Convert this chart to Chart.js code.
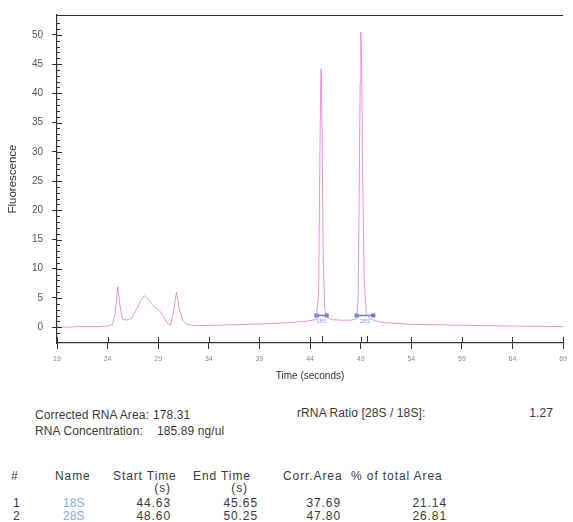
<!DOCTYPE html>
<html>
<head>
<meta charset="utf-8">
<script src="https://cdn.jsdelivr.net/npm/chart.js@4"></script>
<style>
  body { margin: 0; background: #fff; font-family: "Liberation Sans", Arial, sans-serif; color: #3a3a3a; }
  #wrap { position: relative; width: 573px; height: 522px; overflow: hidden; }
  #chart { position: absolute; left: 0; top: 0; }
  .t { position: absolute; font-size: 12px; line-height: 14px; white-space: nowrap; letter-spacing: 0.1px; }
  .h { letter-spacing: 0.9px; }
  .n { letter-spacing: 0.9px; }
  .blue { color: #8aaae6; }
</style>
</head>
<body>
<div id="wrap">
  <canvas id="chart" width="573" height="390"></canvas>
  <div id="info"></div>
</div>
<script>
// electropherogram trace
var timeSec = [19, 20, 21, 22, 23, 24, 24.5, 24.75, 25.0, 25.2, 25.45, 25.9, 26.4, 26.9, 27.3, 27.6, 28.0, 28.4, 28.8, 29.1, 29.5, 29.9, 30.2, 30.5, 30.8, 31.1, 31.4, 31.8, 32.5, 34, 36, 38, 40, 42, 43.5, 44.6, 44.85, 44.95, 45.05, 45.1, 45.2, 45.3, 45.45, 45.7, 46.2, 47, 48, 48.6, 48.75, 48.85, 48.95, 49.02, 49.1, 49.2, 49.35, 49.55, 49.9, 50.4, 51, 52, 54, 57, 60, 64, 69];
var fluorescence = [0.0, 0.0, 0.1, 0.1, 0.1, 0.2, 0.5, 2.5, 6.9, 4.0, 1.4, 1.2, 1.6, 3.2, 4.6, 5.4, 4.8, 3.9, 3.2, 2.9, 1.8, 0.7, 0.3, 2.5, 6.0, 3.0, 1.2, 0.5, 0.3, 0.3, 0.4, 0.5, 0.6, 0.8, 1.0, 1.3, 6.0, 25.0, 42.0, 44.2, 32.0, 12.0, 3.0, 1.6, 1.3, 1.2, 1.2, 1.4, 5.0, 22.0, 42.0, 50.5, 44.0, 26.0, 8.0, 2.4, 1.5, 1.1, 0.9, 0.7, 0.5, 0.4, 0.3, 0.2, 0.1];

var timeTicks = [19, 24, 29, 34, 39, 44, 49, 54, 59, 64, 69];

// detected peaks
var peakNames = ['18S', '28S'];
var peakStart = [44.63, 48.60];
var peakEnd = [45.65, 50.25];
var peakLevel = [2.0, 2.0];
var peakMark = [45.2, 49.6];

// results
var correctedArea = '178.31';
var rnaConc = '185.89 ng/ul';
var rrnaRatio = '1.27';
var startTimes = ['44.63', '48.60'];
var endTimes = ['45.65', '50.25'];
var corrArea = ['37.69', '47.80'];
var pctArea = ['21.14', '26.81'];

var trace = timeSec.map(function (t, i) { return { x: t, y: fluorescence[i] }; });

var datasets = [{
  label: 'trace',
  data: trace,
  borderColor: 'rgba(228,128,220,0.85)',
  borderWidth: 1,
  pointRadius: 0,
  tension: 0
}];
peakNames.forEach(function (n, i) {
  datasets.push({
    label: n,
    data: [{ x: peakStart[i], y: peakLevel[i] }, { x: peakEnd[i], y: peakLevel[i] }],
    borderColor: '#5f7fd8',
    backgroundColor: '#5f7fd8',
    borderWidth: 1.5,
    pointRadius: 1.8,
    pointStyle: 'rect'
  });
});

var decor = {
  id: 'decor',
  afterDraw: function (chart) {
    var ctx = chart.ctx, a = chart.chartArea, x = chart.scales.x, y = chart.scales.y;
    ctx.save();
    ctx.strokeStyle = '#333';
    ctx.lineWidth = 1;
    ctx.beginPath();
    ctx.moveTo(a.left, a.top + 0.5);
    ctx.lineTo(a.right, a.top + 0.5);
    ctx.stroke();
    // minor / major ticks inside left axis
    y.ticks.forEach(function (t) {
      if (t.value <= y.min || t.value >= y.max) return;
      var py = Math.round(y.getPixelForValue(t.value)) + 0.5;
      var len = t.value % 5 === 0 ? 5 : 3;
      ctx.beginPath();
      ctx.moveTo(a.left, py);
      ctx.lineTo(a.left + len, py);
      ctx.stroke();
    });
    // x ticks crossing the axis
    x.ticks.forEach(function (t) {
      var px = Math.round(x.getPixelForValue(t.value)) + 0.5;
      ctx.beginPath();
      ctx.moveTo(px, a.bottom - 6);
      ctx.lineTo(px, a.bottom);
      ctx.stroke();
    });
    peakMark.forEach(function (t) {
      var px = Math.round(x.getPixelForValue(t)) + 0.5;
      ctx.beginPath();
      ctx.moveTo(px, a.bottom - 7);
      ctx.lineTo(px, a.bottom);
      ctx.stroke();
    });
    // peak labels
    ctx.fillStyle = '#7fa2ea';
    ctx.font = '6px "Liberation Sans", Arial';
    ctx.textAlign = 'center';
    ctx.textBaseline = 'top';
    peakNames.forEach(function (n, i) {
      var px = x.getPixelForValue((peakStart[i] + peakEnd[i]) / 2);
      var py = y.getPixelForValue(peakLevel[i]) + 3;
      ctx.fillText(n, px, py);
    });
    ctx.restore();
  }
};

new Chart(document.getElementById('chart'), {
  type: 'line',
  data: { datasets: datasets },
  plugins: [decor],
  options: {
    responsive: false,
    animation: false,
    devicePixelRatio: 1,
    layout: { padding: { top: 13, right: 4, left: 0, bottom: 0 } },
    plugins: { legend: { display: false }, tooltip: { enabled: false } },
    font: { family: '"Liberation Sans", Arial, sans-serif' },
    scales: {
      x: {
        type: 'linear',
        min: 19,
        max: 69,
        afterBuildTicks: function (s) { s.ticks = timeTicks.map(function (v) { return { value: v }; }); },
        afterFit: function (s) { s.height = 47; },
        grid: { drawOnChartArea: false, tickLength: 6, color: '#333' },
        border: { color: '#333', width: 1.2 },
        ticks: { color: '#8a8a8a', font: { size: 7 }, padding: 6, autoSkip: false, maxRotation: 0 },
        title: { display: true, text: 'Time (seconds)', color: '#333', font: { size: 10 }, padding: { top: 2, bottom: 8 } }
      },
      y: {
        type: 'linear',
        min: -2.7,
        max: 53.4,
        afterFit: function (s) { s.width = 57; },
        grid: {
          drawOnChartArea: false,
          tickLength: 5,
          color: function (c) { return c.tick && c.tick.value % 5 === 0 ? '#333' : 'rgba(0,0,0,0)'; }
        },
        border: { color: '#333', width: 1.2 },
        ticks: {
          stepSize: 1,
          autoSkip: false,
          color: '#555',
          font: { size: 10 },
          padding: 9,
          callback: function (v) { return (Number.isInteger(v) && v % 5 === 0) ? v : ''; }
        },
        title: { display: true, text: 'Fluorescence', color: '#333', font: { size: 11.5 }, padding: { top: 6, bottom: 0 } }
      }
    }
  }
});

// text block under the plot
var info = document.getElementById('info');
function put(txt, left, yTop, cls, right) {
  var d = document.createElement('div');
  d.className = 't' + (cls ? ' ' + cls : '');
  d.textContent = txt;
  if (right) { d.style.right = (573 - left) + 'px'; d.style.textAlign = 'right'; }
  else d.style.left = left + 'px';
  d.style.top = yTop + 'px';
  info.appendChild(d);
}
put('Corrected RNA Area:', 35, 408);
put(correctedArea, 153, 408);
put('rRNA Ratio [28S / 18S]:', 297, 406);
put(rrnaRatio, 553, 406, '', true);
put('RNA Concentration:', 35, 424);
put(rnaConc, 157, 424);

put('#', 11, 469, 'h');
put('Name', 55, 469, 'h');
put('Start Time', 113, 469, 'h');
put('End Time', 193, 469, 'h');
put('Corr.Area', 283, 469, 'h');
put('% of total Area', 351, 469, 'h');
put('(s)', 171, 481, 'h', true);
put('(s)', 248, 481, 'h', true);

for (var i = 0; i < peakNames.length; i++) {
  var rowTop = 496 + i * 13;
  put(String(i + 1), 13, rowTop);
  put(peakNames[i], 63, rowTop, 'blue');
  put(startTimes[i], 171, rowTop, 'n', true);
  put(endTimes[i], 258, rowTop, 'n', true);
  put(corrArea[i], 341, rowTop, 'n', true);
  put(pctArea[i], 447, rowTop, 'n', true);
}
</script>
</body>
</html>
